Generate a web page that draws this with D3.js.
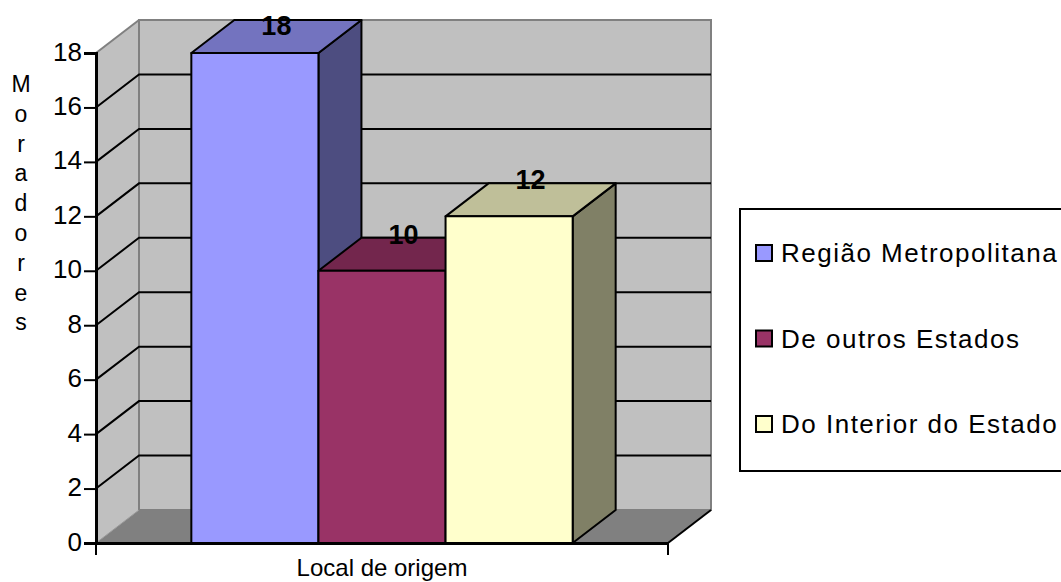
<!DOCTYPE html>
<html>
<head>
<meta charset="utf-8">
<script src="https://cdn.jsdelivr.net/npm/d3@7"></script>
<style>
  html, body { margin: 0; padding: 0; background: #fff; }
  svg { display: block; font-family: 'Liberation Sans', Arial, sans-serif; }
</style>
</head>
<body>
<div id="chart-container"></div>
<script>
// ==== 数据 ====
const categories = ['Local de origem']
const seriesNames = ['Região Metropolitana', 'De outros Estados', 'Do Interior do Estado']
const seriesValues = [18, 10, 12]
const seriesColors = ['#9999FF', '#993366', '#FFFFCC']
const yTicks = [0, 2, 4, 6, 8, 10, 12, 14, 16, 18]
const yTitle = 'Moradores'

;(function () {
  const W = 1061
  const H = 582

  // 前面板（坐标轴所在平面）
  const plot = { left: 96, right: 668, top: 53, bottom: 543 }
  // 3D 深度偏移
  const depth = { dx: 43, dy: -33 }

  const svg = d3
    .select('#chart-container')
    .append('svg')
    .attr('width', W)
    .attr('height', H)

  const y = d3.scaleLinear().domain([0, 18]).range([plot.bottom, plot.top])

  // 类别 -> 系列 的 band 比例尺 (gap width 150%)
  const x0 = d3.scaleBand().domain(categories).range([plot.left, plot.right])
  const x1 = d3
    .scaleBand()
    .domain(seriesNames)
    .range([0, x0.bandwidth()])
    .paddingInner(0)
    .paddingOuter(0.75)

  const shade = (c, k) => {
    const rgb = d3.rgb(c)
    return d3.rgb(rgb.r * k, rgb.g * k, rgb.b * k).formatHex()
  }
  const pts = (arr) => arr.map((p) => p.join(',')).join(' ')

  const bx = plot.left + depth.dx // 后墙左
  const bxr = plot.right + depth.dx // 后墙右

  // ---- 侧墙 ----
  svg
    .append('polygon')
    .attr('points', pts([
      [plot.left, y(18)],
      [bx, y(18) + depth.dy],
      [bx, y(0) + depth.dy],
      [plot.left, y(0)],
    ]))
    .attr('fill', '#C0C0C0')

  // ---- 后墙 ----
  svg
    .append('rect')
    .attr('x', bx)
    .attr('y', y(18) + depth.dy)
    .attr('width', bxr - bx)
    .attr('height', y(0) - y(18))
    .attr('fill', '#C0C0C0')
    .attr('stroke', '#808080')
    .attr('stroke-width', 2)

  svg
    .append('line')
    .attr('x1', plot.left)
    .attr('y1', y(18))
    .attr('x2', bx)
    .attr('y2', y(18) + depth.dy)
    .attr('stroke', '#808080')
    .attr('stroke-width', 2)

  // ---- 网格线 ----
  const grid = svg.append('g')
  yTicks
    .filter((t) => t > 0 && t < 18)
    .forEach((t) => {
      grid
        .append('polyline')
        .attr('points', pts([
          [plot.left, y(t)],
          [bx, y(t) + depth.dy],
          [bxr, y(t) + depth.dy],
        ]))
        .attr('fill', 'none')
        .attr('stroke', '#000')
        .attr('stroke-width', 2)
    })

  // ---- 底板 ----
  svg
    .append('polygon')
    .attr('points', pts([
      [plot.left, y(0)],
      [plot.right, y(0)],
      [bxr, y(0) + depth.dy],
      [bx, y(0) + depth.dy],
    ]))
    .attr('fill', '#808080')
  svg
    .append('line')
    .attr('x1', plot.left)
    .attr('y1', y(0))
    .attr('x2', bx)
    .attr('y2', y(0) + depth.dy)
    .attr('stroke', '#999')
    .attr('stroke-width', 1)
  svg
    .append('line')
    .attr('x1', plot.right)
    .attr('y1', y(0))
    .attr('x2', bxr)
    .attr('y2', y(0) + depth.dy)
    .attr('stroke', '#000')
    .attr('stroke-width', 2)

  // ---- 柱子 ----
  const bars = svg.append('g')
  seriesNames.forEach((name, i) => {
    const v = seriesValues[i]
    const xl = x0(categories[0]) + x1(name)
    const xr = xl + x1.bandwidth()
    const yt = y(v)
    const yb = y(0)
    const g = bars.append('g')
    const edge = (sel) =>
      sel.attr('stroke', '#000').attr('stroke-width', 2).attr('stroke-linejoin', 'round')

    // 侧面
    g.append('polygon')
      .attr('points', pts([
        [xr, yt],
        [xr + depth.dx, yt + depth.dy],
        [xr + depth.dx, yb + depth.dy],
        [xr, yb],
      ]))
      .attr('fill', shade(seriesColors[i], 0.5))
      .call(edge)
    // 顶面
    g.append('polygon')
      .attr('points', pts([
        [xl, yt],
        [xl + depth.dx, yt + depth.dy],
        [xr + depth.dx, yt + depth.dy],
        [xr, yt],
      ]))
      .attr('fill', shade(seriesColors[i], 0.75))
      .call(edge)
    // 正面
    g.append('rect')
      .attr('x', xl)
      .attr('y', yt)
      .attr('width', xr - xl)
      .attr('height', yb - yt)
      .attr('fill', seriesColors[i])
      .call(edge)
  })

  // ---- 数值标签 ----
  seriesNames.forEach((name, i) => {
    const v = seriesValues[i]
    const cx = x0(categories[0]) + x1(name) + x1.bandwidth() / 2 + depth.dx / 2
    const by = Math.max(y(v) + depth.dy + 6, 35)
    svg
      .append('text')
      .attr('x', cx)
      .attr('y', by)
      .attr('text-anchor', 'middle')
      .attr('font-size', 27)
      .attr('font-weight', 'bold')
      .attr('fill', '#000')
      .text(v)
  })

  // ---- 坐标轴 ----
  const yAxis = d3
    .axisLeft(y)
    .tickValues(yTicks)
    .tickSize(12)
    .tickPadding(2)
  const gy = svg
    .append('g')
    .attr('transform', `translate(${plot.left},0)`)
    .call(yAxis)
  gy.select('.domain').attr('stroke', '#000').attr('stroke-width', 3)
  gy.selectAll('.tick line').attr('stroke', '#000').attr('stroke-width', 2)
  gy.selectAll('.tick text')
    .attr('font-family', null)
    .attr('font-size', 26)
    .attr('fill', '#000')
    .attr('dy', 7)

  const xAxis = d3.axisBottom(x0).tickSize(0).tickFormat('')
  const gx = svg
    .append('g')
    .attr('transform', `translate(0,${plot.bottom})`)
    .call(xAxis)
  gx.select('.domain').attr('stroke', '#000').attr('stroke-width', 3)
  // 类别边界刻度
  ;[plot.left, plot.right].forEach((tx) => {
    gx.append('line')
      .attr('x1', tx)
      .attr('x2', tx)
      .attr('y1', 0)
      .attr('y2', 12)
      .attr('stroke', '#000')
      .attr('stroke-width', 2)
  })

  svg
    .append('text')
    .attr('x', x0(categories[0]) + x0.bandwidth() / 2)
    .attr('y', 576)
    .attr('text-anchor', 'middle')
    .attr('font-size', 24)
    .attr('fill', '#000')
    .text(categories[0])

  // 纵向标题：逐字竖排
  const yt = svg.append('text').attr('font-size', 23).attr('fill', '#000').attr('text-anchor', 'middle')
  yTitle.split('').forEach((ch, i) => {
    yt.append('tspan').attr('x', 21).attr('y', 92 + i * 29.8).text(ch)
  })

  // ---- 图例 ----
  const legend = svg.append('g')
  legend
    .append('rect')
    .attr('x', 740)
    .attr('y', 209)
    .attr('width', 400)
    .attr('height', 262)
    .attr('fill', '#fff')
    .attr('stroke', '#000')
    .attr('stroke-width', 2)
  seriesNames.forEach((name, i) => {
    const cy = 253 + i * 85.5
    legend
      .append('rect')
      .attr('x', 756)
      .attr('y', cy - 8)
      .attr('width', 16)
      .attr('height', 16)
      .attr('fill', seriesColors[i])
      .attr('stroke', '#000')
      .attr('stroke-width', 2)
    legend
      .append('text')
      .attr('x', 781)
      .attr('y', cy + 9)
      .attr('font-size', 26)
      .attr('letter-spacing', 1.5)
      .attr('fill', '#000')
      .text(name)
  })
})()
</script>
</body>
</html>
